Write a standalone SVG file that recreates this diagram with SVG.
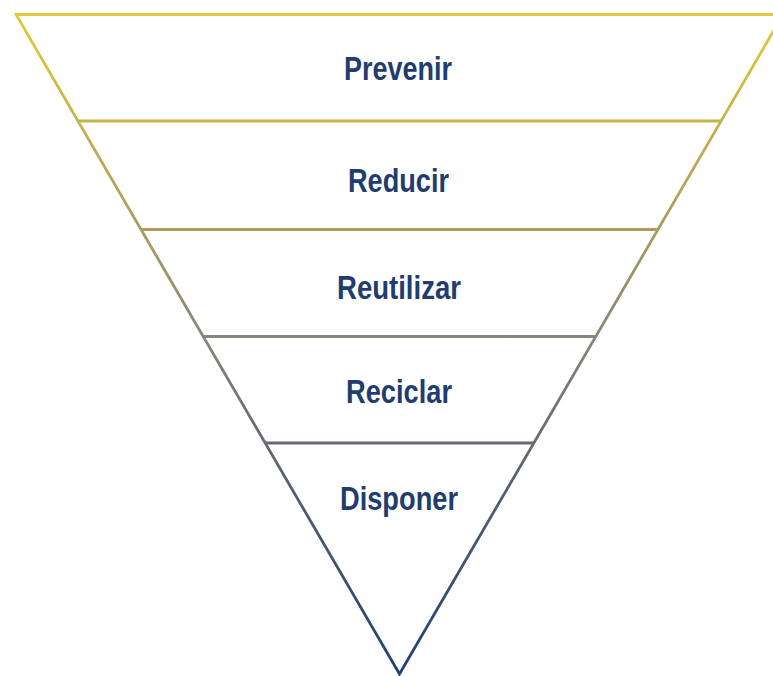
<svg xmlns="http://www.w3.org/2000/svg" width="773" height="676" viewBox="0 0 773 676">
<defs>
<linearGradient id="g" gradientUnits="userSpaceOnUse" x1="0" y1="14" x2="0" y2="674">
<stop offset="0" stop-color="#e3c936"/>
<stop offset="0.33" stop-color="#a99c5f"/>
<stop offset="0.5" stop-color="#85847a"/>
<stop offset="0.7" stop-color="#59606f"/>
<stop offset="1" stop-color="#1f4176"/>
</linearGradient>
</defs>
<style>
.ln{fill:none;stroke:url(#g);stroke-width:2.8;stroke-linejoin:miter}
.t{font-family:"Liberation Sans",Arial,sans-serif;font-weight:bold;font-size:33px;fill:#1f3d6e;text-anchor:middle}
</style>
<rect width="773" height="676" fill="#ffffff"/>
<g id="connectors">
<path class="ln" d="M16,14.5 L783,14.5 L399.5,674 Z"/>
<line class="ln" x1="78" y1="121" x2="721" y2="121"/>
<line class="ln" x1="141" y1="229.5" x2="658" y2="229.5"/>
<line class="ln" x1="203" y1="336.5" x2="596" y2="336.5"/>
<line class="ln" x1="265" y1="443" x2="534" y2="443"/>
</g>
<g id="prevenir"><text class="t" x="398" y="80" textLength="108" lengthAdjust="spacingAndGlyphs">Prevenir</text></g>
<g id="reducir"><text class="t" x="398.5" y="192" textLength="101" lengthAdjust="spacingAndGlyphs">Reducir</text></g>
<g id="reutilizar"><text class="t" x="399" y="299" textLength="124" lengthAdjust="spacingAndGlyphs">Reutilizar</text></g>
<g id="reciclar"><text class="t" x="399" y="403" textLength="106" lengthAdjust="spacingAndGlyphs">Reciclar</text></g>
<g id="disponer"><text class="t" x="399" y="510" textLength="118" lengthAdjust="spacingAndGlyphs">Disponer</text></g>
</svg>
